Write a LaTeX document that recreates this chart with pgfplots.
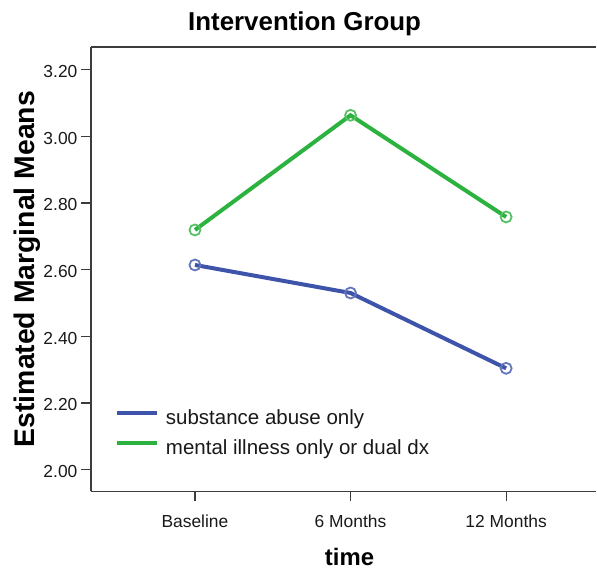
\documentclass[border=0pt]{standalone}
\usepackage{pgfplots}
\pgfplotsset{compat=1.18}
\usepackage{fontspec}
\setmainfont{Liberation Sans}
\definecolor{spssblue}{RGB}{62,84,170}
\definecolor{spssgreen}{RGB}{44,178,62}
\definecolor{axgray}{RGB}{60,60,60}
\begin{document}
\begin{tikzpicture}
\begin{axis}[
  name=ax,
  scale only axis,
  width=506bp, height=445bp,
  xmin=-0.669, xmax=2.579,
  ymin=1.935, ymax=3.268,
  axis x line*=box,
  axis y line*=left,
  axis line style={axgray, line width=1.6bp},
  every tick/.style={axgray, line width=1.2bp},
  tick align=outside,
  major tick length=10bp,
  xtick={0,1,2},
  xticklabels={Baseline,6 Months,12 Months},
  xtick pos=bottom,
  ytick={2.0,2.2,2.4,2.6,2.8,3.0,3.2},
  yticklabels={2.00,2.20,2.40,2.60,2.80,3.00,3.20},
  ytick pos=left,
  tick label style={font=\fontsize{17.5}{20}\selectfont, text=black!90},
  xticklabel style={anchor=base, yshift=-26bp},
  yticklabel style={anchor=east, yshift=-2bp},
  legend cell align=left,
  legend style={draw=none, fill=none, inner sep=0pt,
    at={(rel axis cs:0.0474,0.1836)}, anchor=north west,
    font=\fontsize{20.6}{24}\selectfont, text=black!90,
    nodes={inner sep=0pt, text height=15bp, text depth=4bp},
    row sep=11bp, column sep=7bp},
  legend image code/.code={\draw[#1, line width=4bp] (0bp,6bp) -- (40bp,6bp);},
  clip=false,
]
\addplot[spssblue, line width=4bp, mark=o, mark size=5.5bp,
  mark options={line width=1.8bp, draw=spssblue!80!white}]
  coordinates {(0,2.614) (1,2.530) (2,2.304)};
\addlegendentry{substance abuse only}
\addplot[spssgreen, line width=4bp, mark=o, mark size=5.5bp,
  mark options={line width=1.8bp, draw=spssgreen!80!white}]
  coordinates {(0,2.719) (1,3.063) (2,2.758)};
\addlegendentry{mental illness only or dual dx}
\end{axis}
\path (ax.south west) ++(-91bp,-76bp) coordinate (bbl);
\path (ax.north west) ++(506bp,47bp) coordinate (btr);
\path (bbl) rectangle (btr);
\node[anchor=base, font=\bfseries\fontsize{26}{30}\selectfont] at ([xshift=214bp,yshift=16.7bp]ax.north west) {Intervention Group};
\node[anchor=base, rotate=90, font=\bfseries\fontsize{28.5}{32}\selectfont] at ([xshift=-56bp]ax.west) {Estimated Marginal Means};
\node[anchor=base, font=\bfseries\fontsize{24}{28}\selectfont] at ([xshift=259bp,yshift=-74bp]ax.south west) {time};
\end{tikzpicture}
\end{document}
